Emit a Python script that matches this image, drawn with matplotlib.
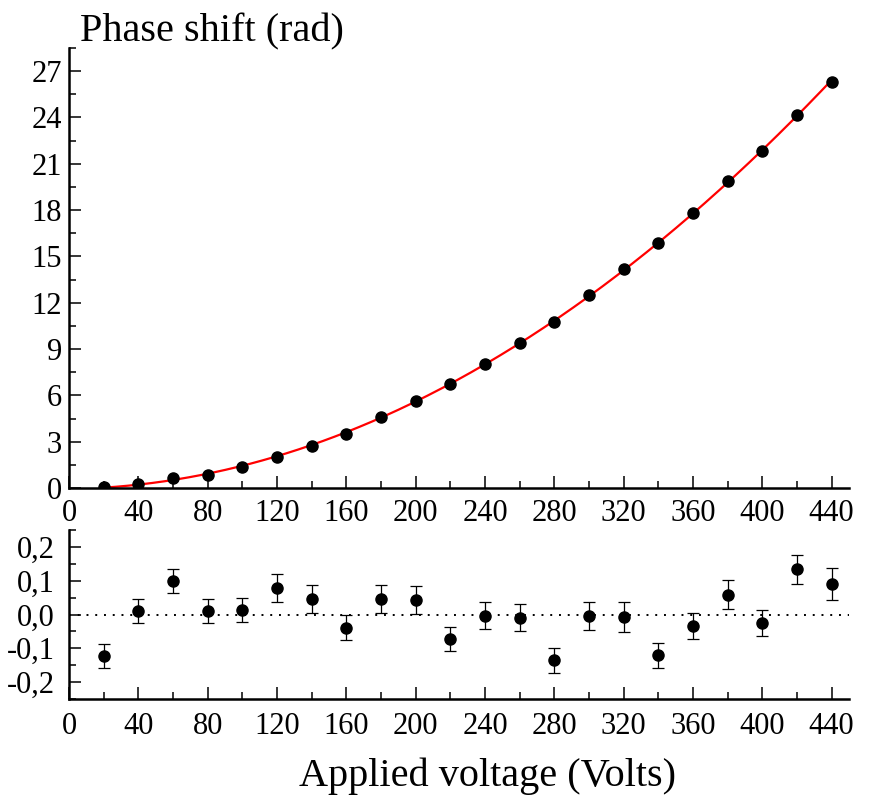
import numpy as np
import matplotlib
matplotlib.use('Agg')
from matplotlib import pyplot as plt
from matplotlib.ticker import MultipleLocator, FuncFormatter

plt.rcParams['font.family'] = ['Liberation Serif', 'DejaVu Serif']

# data
volts = [20, 40, 60, 80, 100, 120, 140, 160, 180, 200, 220,
         240, 260, 280, 300, 320, 340, 360, 380, 400, 420, 440]
phase = [0.05, 0.24, 0.63, 0.87, 1.39, 2.03, 2.75, 3.51, 4.57, 5.61, 6.71,
         8.05, 9.42, 10.76, 12.49, 14.2, 15.86, 17.81, 19.87, 21.84, 24.16, 26.3]
resid = [-0.123, 0.01, 0.10, 0.01, 0.013, 0.078, 0.047, -0.039, 0.046, 0.044, -0.072,
         -0.004, -0.009, -0.135, -0.005, -0.007, -0.12, -0.034, 0.059, -0.026, 0.134, 0.09]
resid_err = [0.036, 0.035, 0.036, 0.035, 0.036, 0.041, 0.041, 0.037, 0.040, 0.041, 0.036,
             0.040, 0.041, 0.037, 0.042, 0.044, 0.037, 0.038, 0.042, 0.039, 0.043, 0.047]

x_ticks = np.arange(0, 441, 40)

fig = plt.figure(figsize=(8.71, 8.07), dpi=100)
ax1 = fig.add_axes([0.0792, 0.3953, 0.8955, 0.5452])
ax2 = fig.add_axes([0.0792, 0.1338, 0.8955, 0.2094])

def style(ax):
    for s in ['top', 'right']:
        ax.spines[s].set_visible(False)
    for s in ['left', 'bottom']:
        ax.spines[s].set_linewidth(1.8)
    ax.tick_params(which='both', direction='in', width=1.1, labelsize=22)
    ax.tick_params(which='major', length=8.5)
    ax.tick_params(which='minor', length=5)
    ax.set_xlim(0, 450)
    ax.set_xticks(x_ticks)
    ax.xaxis.set_minor_locator(MultipleLocator(20))

# top panel
style(ax1)
fit = np.polyfit(volts, phase, 2)
xs = np.linspace(volts[0], volts[-1], 300)
ax1.plot(xs, np.polyval(fit, xs), color='red', lw=1.6, zorder=2)
ax1.plot(volts, phase, 'o', color='black', ms=8, zorder=3)
ax1.set_ylim(0, 28.5)
ax1.set_yticks(np.arange(0, 28, 3))
ax1.yaxis.set_minor_locator(MultipleLocator(1.5))
ax1.tick_params(axis='x', pad=8)
ax1.tick_params(axis='y', pad=5)

# residuals
style(ax2)
ax2.axhline(0, color='black', lw=1.4, ls=(0, (1, 3.5)), zorder=1)
ax2.errorbar(volts, resid, yerr=resid_err, fmt='o', color='black', ms=8,
             elinewidth=0.9, capsize=4, capthick=0.9, zorder=3)
ax2.set_ylim(-0.25, 0.25)
ax2.set_yticks([-0.2, -0.1, 0.0, 0.1, 0.2])
ax2.yaxis.set_minor_locator(MultipleLocator(0.05))
ax2.yaxis.set_major_formatter(FuncFormatter(lambda v, p: ('%.1f' % v).replace('.', ',').replace('-0,0', '0,0')))
ax2.tick_params(axis='x', pad=9)
ax2.tick_params(axis='y', pad=10)

fig.text(0.092, 0.960, 'Phase shift (rad)', fontsize=29, ha='left', va='center')
fig.text(0.56, 0.038, 'Applied voltage (Volts)', fontsize=29, ha='center', va='center')

fig.savefig('out.png', dpi=100)
